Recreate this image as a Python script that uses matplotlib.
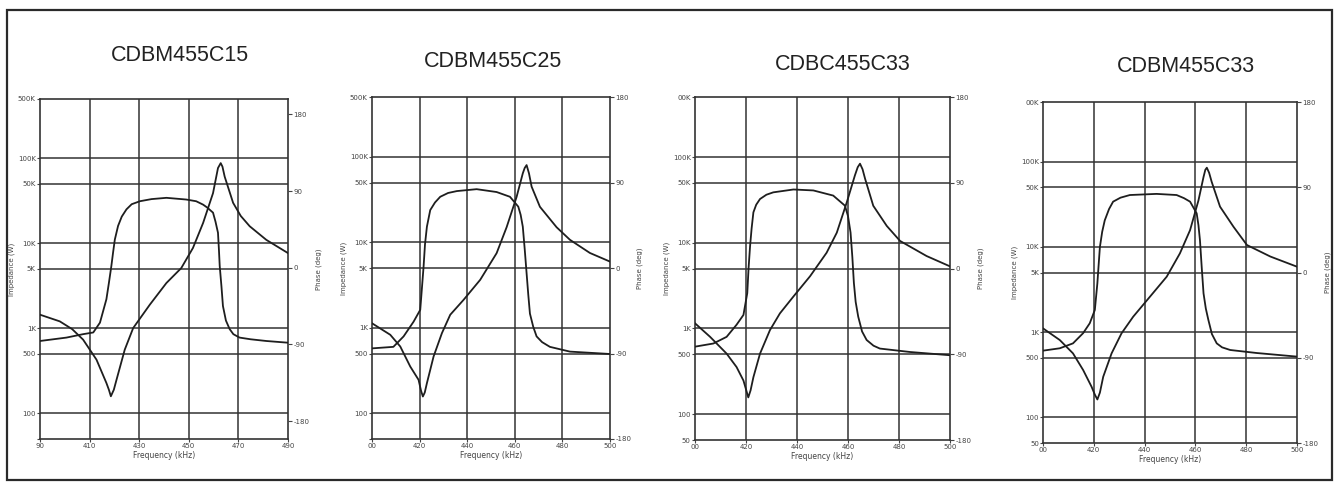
import matplotlib.pyplot as plt
from matplotlib.patches import Rectangle

# Part names shown above each panel
titles = ['CDBM455C15', 'CDBM455C25', 'CDBC455C33', 'CDBM455C33']

# Panel 1 (390-490 kHz)
freq_z1 = [390, 398, 403, 407.4, 412.8, 416.8, 417.8, 418.6, 419.8, 420.9, 424.2, 427.6, 434.3, 441,
           447, 451.7, 455.8, 459.8, 461.8, 462.9, 463.6, 464.5, 467.9, 471, 474.6, 481.3, 490]
imp_1 = [1450, 1210, 980, 738, 429, 228, 190, 159, 190, 250, 562, 1010, 1900, 3420,
         5130, 8830, 17400, 39000, 77000, 88000, 80000, 61000, 30000, 21000, 15900, 11000, 7700]
freq_p1 = [390, 400.7, 407.4, 411.5, 414.2, 416.8, 417.8, 418.8, 419.5, 420.2, 421.5, 423, 424.9,
           427, 430.3, 435, 441, 449, 453, 455.8, 457.5, 459.8, 460.8, 461.8, 462.2, 462.5, 463.2,
           463.8, 465, 466.5, 468, 470.5, 475, 481.3, 490]
phase_1 = [-86, -82, -78, -76, -64.5, -37, -18, 2, 18, 33, 49, 60, 68.5,
           74.5, 78, 80.5, 82, 80, 78, 74, 70.5, 64.6, 54, 41, 20, 2, -22,
           -45, -62, -72, -78, -82, -84, -86, -88]

# Panel 2 (400-500 kHz)
freq_z2 = [400, 407.7, 411.9, 416.1, 419.6, 420.6, 421.4, 422.2, 423.1, 425.9, 429.4, 432.9, 438.5,
           445.5, 452.4, 456.6, 460.8, 463.4, 464.2, 465, 466, 467.1, 470.6, 477.6, 483.2, 491.6, 500]
imp_2 = [1130, 828, 604, 352, 246, 185, 157, 175, 225, 461, 864, 1420, 2120,
         3640, 7460, 15000, 34000, 64000, 74000, 80000, 64000, 44800, 26000, 15000, 10700, 7500, 5950]
freq_p2 = [400, 409, 413.3, 417.5, 420.3, 421.7, 422.3, 423.1, 424.5, 426.5, 428.7, 432, 435.7,
           444, 452.4, 458, 461.5, 462.5, 463.4, 464.2, 465, 465.7, 466.4, 467.8, 469.2, 471.5,
           474.8, 483.2, 500]
phase_2 = [-84.6, -83, -72, -56.5, -44, 1.4, 25, 43.5, 61, 69, 75, 79, 81,
           83, 80, 75, 64.6, 56, 43.5, 20, -5.6, -28, -48, -62, -72, -78,
           -83, -88, -90.5]

# Panel 3 (400-500 kHz)
freq_z3 = [400, 405.9, 412.4, 416.3, 419, 420, 420.9, 421.8, 422.9, 425.5, 429.4, 433.3, 438.6,
           445.1, 451.6, 455.6, 459.5, 462.7, 463.8, 464.7, 465.7, 466.7, 469.9, 475.2, 480.4,
           490.8, 500]
imp_3 = [1150, 800, 509, 355, 247, 195, 157, 190, 270, 509, 958, 1500, 2360,
         4060, 7640, 13100, 29500, 61000, 76000, 83600, 72000, 55700, 27000, 15700, 10500,
         7000, 5300]
freq_p3 = [400, 407.2, 412.4, 416.3, 419, 420.5, 421, 421.6, 422.2, 422.9, 424, 425.5, 428,
           430.7, 438.6, 446.4, 454.2, 458.8, 460, 461, 461.7, 462.3, 463, 464, 465.5, 467.3,
           470, 472.5, 484.3, 500]
phase_3 = [-82, -78.7, -71.7, -59, -48.7, -25.8, 0, 23.6, 42, 59, 67, 73, 77.5,
           80, 83, 82, 76.6, 66, 55, 37.7, 12, -15, -35, -50.5, -66, -75,
           -81, -84, -87.6, -91]

# Panel 4 (400-500 kHz)
freq_z4 = [400, 406.6, 411.8, 415.8, 419.1, 420.4, 421.4, 422.4, 423.7, 427, 430.9, 435.5, 442.1,
           448.7, 453.9, 457.9, 461.2, 463.2, 463.9, 464.5, 465.4, 466.4, 469.7, 475, 480.3,
           489.5, 500]
imp_4 = [1106, 807, 563, 359, 229, 185, 162, 195, 299, 563, 966, 1515, 2600,
         4465, 8380, 15700, 35000, 66000, 80000, 84800, 74000, 58000, 29600, 17200, 10500,
         7700, 5850]
freq_p4 = [400, 406.6, 411.8, 415.8, 418.4, 420.4, 421.4, 421.9, 422.4, 423.3, 424.3, 426,
           427.6, 430.5, 434.2, 444.7, 452.6, 455.5, 457.9, 460.5, 461.2, 461.8, 462.5, 463.2,
           464.1, 465.1, 466.5, 468.4, 470.5, 473.7, 484.2, 500]
phase_4 = [-82.5, -80, -74.8, -64, -53.6, -39.6, -11.4, 8, 27, 43, 55, 67,
           74.8, 79, 81.8, 83, 81.8, 78.5, 74.8, 62.5, 50, 34, 5, -22,
           -38, -50, -65, -74.8, -79, -81.8, -85, -88.8]

# axis ticks
x_ticks_1 = [390, 410, 430, 450, 470, 490]
x_labels_1 = ['90', '410', '430', '450', '470', '490']
x_ticks_2 = [400, 420, 440, 460, 480, 500]
x_labels_2 = ['00', '420', '440', '460', '480', '500']
z_ticks = [50, 100, 500, 1000, 5000, 10000, 50000, 100000, 500000]
z_labels_a = ['', '100', '500', '1K', '5K', '10K', '50K', '100K', '500K']
z_labels_b = ['50', '100', '500', '1K', '5K', '10K', '50K', '100K', '00K']
z_grid = [100, 500, 1000, 5000, 10000, 50000, 100000]
p_ticks = [-180, -90, 0, 90, 180]

panels = [
    dict(fz=freq_z1, z=imp_1, fp=freq_p1, p=phase_1, xt=x_ticks_1, xl=x_labels_1, zl=z_labels_a,
         plim=(-201, 198), pos=[0.0299, 0.0911, 0.1856, 0.704]),
    dict(fz=freq_z2, z=imp_2, fp=freq_p2, p=phase_2, xt=x_ticks_2, xl=x_labels_2, zl=z_labels_a,
         plim=(-180, 180), pos=[0.2784, 0.0911, 0.1781, 0.708]),
    dict(fz=freq_z3, z=imp_3, fp=freq_p3, p=phase_3, xt=x_ticks_2, xl=x_labels_2, zl=z_labels_b,
         plim=(-180, 180), pos=[0.5202, 0.0890, 0.1909, 0.710]),
    dict(fz=freq_z4, z=imp_4, fp=freq_p4, p=phase_4, xt=x_ticks_2, xl=x_labels_2, zl=z_labels_b,
         plim=(-180, 180), pos=[0.7807, 0.0828, 0.1901, 0.706]),
]
title_pos = [(0.135, 0.885), (0.369, 0.872), (0.631, 0.866), (0.888, 0.862)]

line_c = '#1e1e1e'
grid_c = '#333333'
txt_c = '#444444'

fig = plt.figure(figsize=(13.36, 4.83), dpi=100)
fig.patches.append(Rectangle((0.005, 0.006), 0.992, 0.974, transform=fig.transFigure,
                             fill=False, edgecolor='#2a2a2a', linewidth=1.6))

for i, pn in enumerate(panels):
    ax = fig.add_axes(pn['pos'])
    ax.set_yscale('log')
    ax.set_xlim(pn['xt'][0], pn['xt'][-1])
    ax.set_ylim(50, 500000)
    for g in z_grid:
        ax.axhline(g, color=grid_c, lw=1.1, zorder=1)
    for xv in pn['xt'][1:-1]:
        ax.axvline(xv, color=grid_c, lw=1.1, zorder=1)
    ax.plot(pn['fz'], pn['z'], color=line_c, lw=1.3, zorder=3)
    ax.set_xticks(pn['xt'])
    ax.set_xticklabels(pn['xl'])
    ax.set_yticks(z_ticks)
    ax.set_yticklabels(pn['zl'])
    ax.minorticks_off()
    ax.tick_params(labelsize=5, colors=txt_c, length=2, width=0.8, pad=1)
    ax.set_xlabel('Frequency (kHz)', fontsize=5.5, color=txt_c, labelpad=1)
    ax.set_ylabel('Impedance (W)', fontsize=5, color=txt_c, labelpad=2)
    for s in ax.spines.values():
        s.set_color(grid_c)
        s.set_linewidth(1.2)

    ax2 = ax.twinx()
    ax2.set_ylim(*pn['plim'])
    ax2.plot(pn['fp'], pn['p'], color=line_c, lw=1.3, zorder=3)
    ax2.set_yticks(p_ticks)
    ax2.set_yticklabels([str(t) for t in p_ticks])
    ax2.tick_params(labelsize=5, colors=txt_c, length=3, width=0.8, pad=1)
    ax2.set_ylabel('Phase (deg)', fontsize=5, color=txt_c, labelpad=4)
    for s in ax2.spines.values():
        s.set_visible(False)

    fig.text(title_pos[i][0], title_pos[i][1], titles[i], ha='center', va='center',
             fontsize=15.5, color='#222222', family='Liberation Sans')

plt.savefig('out.png', dpi=100)
